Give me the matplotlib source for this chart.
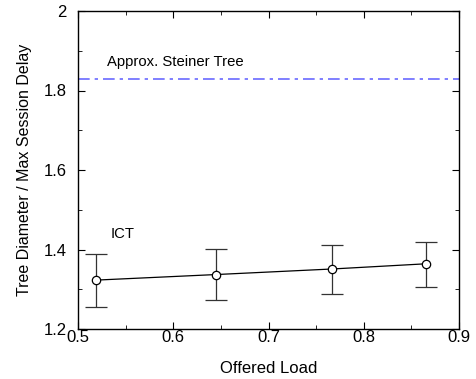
import matplotlib
matplotlib.use("Agg")
import matplotlib.pyplot as plt
from matplotlib.ticker import MultipleLocator

plt.rcParams['font.family'] = ['Liberation Sans', 'DejaVu Sans']

# data
load = [0.519, 0.645, 0.767, 0.865]
ict = [1.323, 1.337, 1.351, 1.364]
ict_lo = [1.256, 1.273, 1.289, 1.306]
ict_hi = [1.389, 1.401, 1.412, 1.419]
steiner = 1.830

xticks = [0.5, 0.6, 0.7, 0.8, 0.9]
xticklabels = ['0.5', '0.6', '0.7', '0.8', '0.9']
yticks = [1.2, 1.4, 1.6, 1.8, 2.0]
yticklabels = ['1.2', '1.4', '1.6', '1.8', '2']

err = [[m - l for m, l in zip(ict, ict_lo)], [h - m for m, h in zip(ict, ict_hi)]]

fig = plt.figure(figsize=(4.76, 3.79), dpi=100)
ax = fig.add_axes([78 / 476, 1 - 329 / 379, (459 - 78) / 476, (329 - 11) / 379])

ax.axhline(steiner, color='#6a6aff', lw=1.2, ls=(0, (7, 3, 2, 3)))
ax.errorbar(load, ict, yerr=err, color='black', lw=0.9, elinewidth=0.9,
            ecolor='#333333', capsize=8, capthick=0.9,
            marker='o', markersize=6, mfc='white', mec='black', mew=0.9)

ax.text(0.530, 1.872, 'Approx. Steiner Tree', fontsize=10.7, va='center')
ax.text(0.534, 1.439, 'ICT', fontsize=10.7, va='center')

ax.set_xlim(0.5, 0.9)
ax.set_ylim(1.2, 2.0)
ax.set_xticks(xticks)
ax.set_xticklabels(xticklabels)
ax.set_yticks(yticks)
ax.set_yticklabels(yticklabels)
ax.xaxis.set_minor_locator(MultipleLocator(0.05))
ax.yaxis.set_minor_locator(MultipleLocator(0.1))
ax.tick_params(which='both', direction='in', top=True, right=True, labelsize=12)
ax.tick_params(which='major', length=5)
ax.tick_params(which='minor', length=3)
ax.tick_params(axis='x', pad=1)
ax.tick_params(axis='y', pad=8)
for s in ax.spines.values():
    s.set_linewidth(1.0)

ax.set_xlabel('Offered Load', fontsize=12)
ax.set_ylabel('Tree Diameter / Max Session Delay', fontsize=11.5)
ax.xaxis.set_label_coords(0.5, -0.1)
ax.yaxis.set_label_coords(-0.12, 0.5)

fig.savefig('out.png', dpi=100)
